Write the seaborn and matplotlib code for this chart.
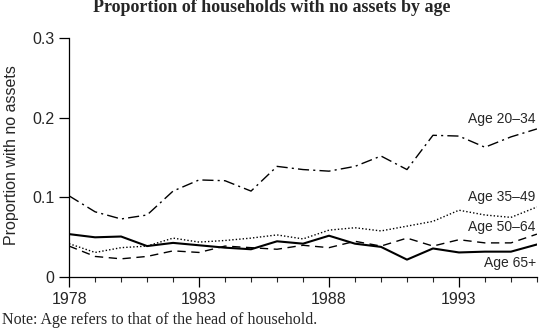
import numpy as np
import pandas as pd
import matplotlib
matplotlib.use('Agg')
import matplotlib.pyplot as plt
import seaborn as sns

# values
years = list(range(1978, 1997))
age_20_34 = [0.102, 0.082, 0.073, 0.078, 0.108, 0.122, 0.121, 0.108, 0.139, 0.135,
             0.133, 0.139, 0.152, 0.135, 0.178, 0.177, 0.163, 0.176, 0.186]
age_35_49 = [0.042, 0.031, 0.037, 0.039, 0.049, 0.044, 0.046, 0.049, 0.053, 0.048,
             0.059, 0.062, 0.058, 0.064, 0.070, 0.084, 0.078, 0.075, 0.088]
age_50_64 = [0.039, 0.026, 0.023, 0.026, 0.033, 0.031, 0.039, 0.037, 0.035, 0.040,
             0.037, 0.045, 0.039, 0.049, 0.039, 0.047, 0.043, 0.043, 0.054]
age_65 = [0.054, 0.050, 0.051, 0.039, 0.043, 0.040, 0.037, 0.035, 0.045, 0.042,
          0.052, 0.042, 0.038, 0.022, 0.036, 0.031, 0.032, 0.032, 0.041]
groups = ['Age 20\u201334', 'Age 35\u201349', 'Age 50\u201364', 'Age 65+']

# build a long table for seaborn
df = pd.DataFrame({'year': years * 4,
                   'prop': age_20_34 + age_35_49 + age_50_64 + age_65,
                   'group': np.repeat(groups, len(years))})

sns.set_style('ticks')
plt.rcParams['font.family'] = ['Liberation Sans', 'DejaVu Sans']

fig, ax = plt.subplots(figsize=(5.44, 3.28), dpi=100)
fig.subplots_adjust(left=0.127, right=0.987, top=0.884, bottom=0.155)

dashes = {groups[0]: (8, 3, 1.5, 3), groups[1]: (1, 1.5),
          groups[2]: (6, 4), groups[3]: ''}
sizes = {groups[0]: 1.0, groups[1]: 1.0, groups[2]: 1.0, groups[3]: 1.5}
sns.lineplot(data=df, x='year', y='prop', style='group', dashes=dashes,
             size='group', sizes=sizes, color='black', legend=False, ax=ax)

# labels at right end of each line
label_y = {groups[0]: 0.199, groups[1]: 0.100, groups[2]: 0.063, groups[3]: 0.018}
for g in groups:
    ax.text(1995.95, label_y[g], g, ha='right', va='center', fontsize=10)

ax.set_xlim(1978, 1996)
ax.set_ylim(0, 0.3)
ax.set_xticks([1978, 1983, 1988, 1993])
ax.set_xticks(years, minor=True)
ax.set_yticks([0, 0.1, 0.2, 0.3])
ax.set_yticklabels(['0', '0.1', '0.2', '0.3'])
ax.tick_params(axis='both', labelsize=11.5, length=7, width=0.9, color='black')
ax.tick_params(axis='x', which='minor', length=3.5, width=0.8)
ax.set_xlabel('')
ax.set_ylabel('Proportion with no assets', fontsize=11.5, labelpad=7)
ax.yaxis.set_label_coords(-0.108, 0.51)
sns.despine(ax=ax)
for s in ['left', 'bottom']:
    ax.spines[s].set_color('black')
    ax.spines[s].set_linewidth(0.9)

fig.text(0.5, 0.978, 'Proportion of households with no assets by age',
         ha='center', va='center', fontsize=13, fontweight='bold',
         family='Liberation Serif')
fig.text(0.004, 0.012, 'Note: Age refers to that of the head of household.',
         ha='left', va='baseline', fontsize=11.5, family='Liberation Serif')

fig.savefig('out.png', dpi=100)
